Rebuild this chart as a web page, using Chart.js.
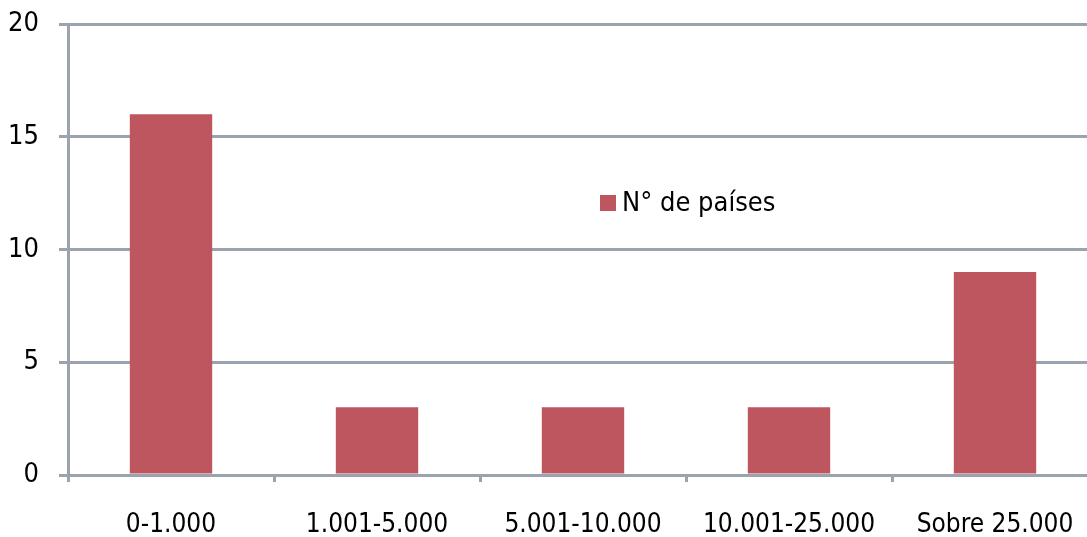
<!DOCTYPE html>
<html>
<head>
<meta charset="utf-8">
<script src="https://cdn.jsdelivr.net/npm/chart.js@4"></script>
<style>
  html, body { margin: 0; padding: 0; background: #fff; overflow: hidden; }
  #wrap { position: relative; width: 1098px; height: 537px; }
</style>
</head>
<body>
<div id="wrap"><canvas id="bar-chart"></canvas></div>
<script>
const categories = ["0-1.000", "1.001-5.000", "5.001-10.000", "10.001-25.000", "Sobre 25.000"];
const paises = [16, 3, 3, 3, 9];
const seriesLabel = "N° de países";
const yTicks = [0, 5, 10, 15, 20];

const FONT = "'DejaVu Sans Condensed', 'Liberation Sans', sans-serif";
const gridColor = "#9aa3ae";
const barColor = "#be5660";

// legend drawn inside the plot, like the original
const insideLegend = {
  id: "insideLegend",
  afterDraw(chart) {
    const ctx = chart.ctx;
    const ds = chart.data.datasets[0];
    ctx.save();
    ctx.fillStyle = ds.backgroundColor;
    ctx.fillRect(600, 195, 16, 16);
    ctx.fillStyle = "#000";
    ctx.font = "27px " + FONT;
    ctx.textBaseline = "middle";
    ctx.fillText(ds.label, 622, 204);
    ctx.restore();
  },
};

var config = {
  type: "bar",
  data: {
    labels: categories,
    datasets: [
      {
        label: seriesLabel,
        data: paises,
        backgroundColor: barColor,
        categoryPercentage: 1,
        barPercentage: 0.4,
      },
    ],
  },
  options: {
    responsive: true,
    maintainAspectRatio: false,
    animation: false,
    layout: { padding: { top: 24, right: 0, left: 0, bottom: 0 } },
    plugins: {
      legend: { display: false },
      tooltip: { enabled: false },
    },
    scales: {
      x: {
        grid: {
          offset: true,
          drawOnChartArea: false,
          tickLength: 7,
          color: gridColor,
          lineWidth: 3,
        },
        border: { color: gridColor, width: 3 },
        ticks: {
          color: "#000",
          padding: 28,
          font: { family: FONT, size: 26 },
          maxRotation: 0,
        },
        afterFit(scale) {
          scale.height = 62;
          scale.paddingLeft = 0;
          scale.paddingRight = 0;
        },
      },
      y: {
        min: 0,
        max: 20,
        afterBuildTicks(scale) {
          scale.ticks = yTicks.map((v) => ({ value: v }));
        },
        grid: {
          color: gridColor,
          lineWidth: 3,
          tickLength: 9,
        },
        border: { color: gridColor, width: 3 },
        ticks: {
          color: "#000",
          padding: 20,
          font: { family: FONT, size: 27 },
        },
        afterFit(scale) {
          scale.width = 68;
          scale.paddingTop = 0;
          scale.paddingBottom = 0;
        },
      },
    },
  },
  plugins: [insideLegend],
};

let ctx = document.getElementById("bar-chart").getContext("2d");
window.myBar = new Chart(ctx, config);
</script>
</body>
</html>
